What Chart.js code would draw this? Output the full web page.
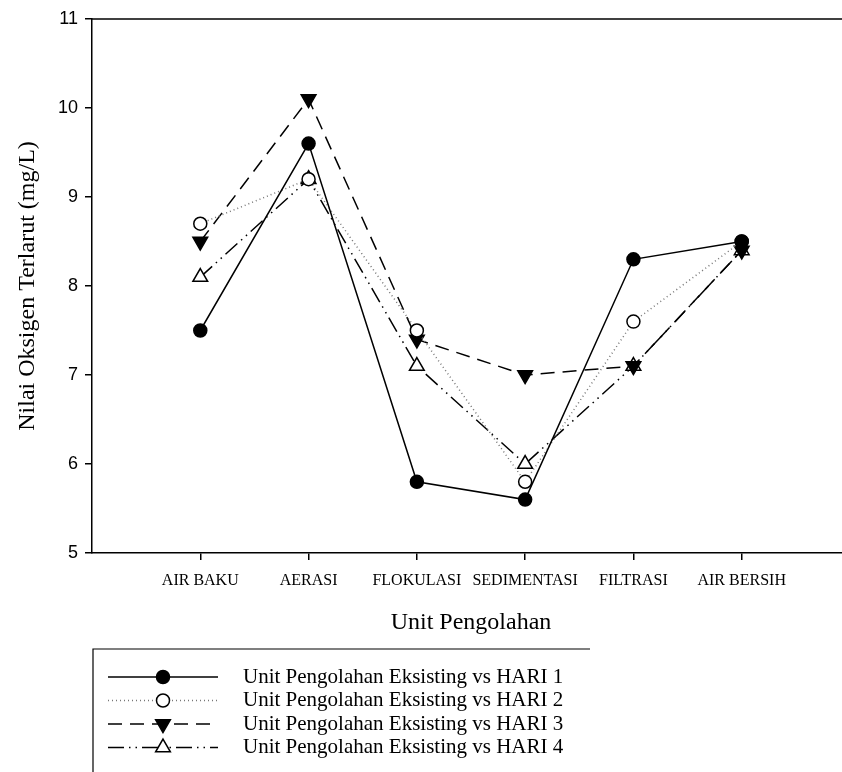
<!DOCTYPE html>
<html>
<head>
<meta charset="utf-8">
<script src="https://cdn.jsdelivr.net/npm/chart.js@4"></script>
<style>
    html, body { margin: 0; padding: 0; background: #fff; overflow: hidden; }
    #wrap { width: 842px; height: 772px; overflow: hidden; }
</style>
</head>
<body>
<div id="wrap"><canvas id="oxygenChart" width="860" height="772"></canvas></div>
<script>
const categories = ['AIR BAKU', 'AERASI', 'FLOKULASI', 'SEDIMENTASI', 'FILTRASI', 'AIR BERSIH'];
const hari1 = [7.5, 9.6, 5.8, 5.6, 8.3, 8.5];
const hari2 = [8.7, 9.2, 7.5, 5.8, 7.6, 8.5];
const hari3 = [8.5, 10.1, 7.4, 7.0, 7.1, 8.4];
const hari4 = [8.1, 9.2, 7.1, 6.0, 7.1, 8.4];
const seriesNames = [
    'Unit Pengolahan Eksisting vs HARI 1',
    'Unit Pengolahan Eksisting vs HARI 2',
    'Unit Pengolahan Eksisting vs HARI 3',
    'Unit Pengolahan Eksisting vs HARI 4'
];
const yTicks = [5, 6, 7, 8, 9, 10, 11];

const serif = '"Liberation Serif", "Times New Roman", serif';
const sans = '"Liberation Sans", Arial, sans-serif';

// categories sit at x = 1..n on a linear scale
const toPoints = (vals) => vals.map((v, i) => ({ x: i + 1, y: v }));

// top frame line + hand-drawn legend box below the axis title
const framePlugin = {
    id: 'frame',
    afterDraw(chart) {
        const c = chart.ctx;
        const area = chart.chartArea;
        c.save();
        c.strokeStyle = '#000';
        c.lineWidth = 1.5;
        c.beginPath();
        c.moveTo(area.left, area.top);
        c.lineTo(area.right, area.top);
        c.stroke();

        // legend box (bottom runs off the picture)
        const boxLeft = 93, boxTop = 649, boxRight = 590;
        c.lineWidth = 1.2;
        c.beginPath();
        c.moveTo(boxRight, boxTop);
        c.lineTo(boxLeft, boxTop);
        c.lineTo(boxLeft, 780);
        c.stroke();

        chart.data.datasets.forEach((ds, i) => {
            const y = 677 + i * 23.5;
            c.save();
            c.strokeStyle = ds.borderColor;
            c.lineWidth = ds.borderWidth;
            c.setLineDash(ds.borderDash || []);
            c.beginPath();
            c.moveTo(108, y);
            c.lineTo(218, y);
            c.stroke();
            c.restore();
            c.save();
            c.setLineDash([]);
            c.strokeStyle = ds.pointBorderColor;
            c.fillStyle = ds.pointBackgroundColor;
            c.lineWidth = ds.pointBorderWidth;
            Chart.helpers.drawPoint(c, {
                pointStyle: ds.pointStyle,
                rotation: ds.pointRotation || 0,
                radius: ds.pointRadius,
                borderWidth: ds.pointBorderWidth
            }, 163, y);
            c.restore();
            c.fillStyle = '#000';
            c.font = '21px ' + serif;
            c.textBaseline = 'middle';
            c.textAlign = 'left';
            c.fillText(ds.label, 243, y);
        });
        c.restore();
    }
};

new Chart(document.getElementById('oxygenChart'), {
    type: 'line',
    data: {
        datasets: [{
            label: seriesNames[0],
            data: toPoints(hari1),
            borderColor: '#000',
            borderWidth: 1.5,
            pointStyle: 'circle',
            pointRadius: 6.5,
            pointBackgroundColor: '#000',
            pointBorderColor: '#000',
            pointBorderWidth: 1.5
        }, {
            label: seriesNames[1],
            data: toPoints(hari2),
            borderColor: '#777',
            borderWidth: 1.5,
            borderDash: [1, 3],
            pointStyle: 'circle',
            pointRadius: 6.5,
            pointBackgroundColor: '#fff',
            pointBorderColor: '#000',
            pointBorderWidth: 1.5
        }, {
            label: seriesNames[2],
            data: toPoints(hari3),
            borderColor: '#000',
            borderWidth: 1.5,
            borderDash: [14, 8],
            pointStyle: 'triangle',
            pointRotation: 180,
            pointRadius: 8.5,
            pointBackgroundColor: '#000',
            pointBorderColor: '#000',
            pointBorderWidth: 1.5
        }, {
            label: seriesNames[3],
            data: toPoints(hari4),
            borderColor: '#000',
            borderWidth: 1.5,
            borderDash: [16, 5, 1.5, 5, 1.5, 5],
            pointStyle: 'triangle',
            pointRadius: 8.5,
            pointBackgroundColor: '#fff',
            pointBorderColor: '#000',
            pointBorderWidth: 1.5
        }]
    },
    options: {
        responsive: false,
        animation: false,
        devicePixelRatio: 1,
        layout: { padding: { top: 19, right: 8, bottom: 119, left: 0 } },
        plugins: {
            legend: { display: false },
            tooltip: { enabled: false }
        },
        elements: { line: { tension: 0 } },
        scales: {
            x: {
                type: 'linear',
                min: 0,
                max: categories.length + 1,
                afterBuildTicks: (scale) => {
                    scale.ticks = categories.map((c, i) => ({ value: i + 1 }));
                },
                afterFit: (scale) => { scale.height = 100; },
                grid: {
                    drawOnChartArea: false,
                    color: '#000',
                    lineWidth: 1.5,
                    tickLength: 7
                },
                border: { color: '#000', width: 1.5 },
                ticks: {
                    autoSkip: false,
                    maxRotation: 0,
                    padding: 11,
                    color: '#000',
                    font: { family: serif, size: 16 },
                    callback: (v) => categories[v - 1]
                },
                title: {
                    display: true,
                    text: 'Unit Pengolahan',
                    color: '#000',
                    font: { family: serif, size: 24 },
                    padding: { top: 0, bottom: 16 }
                }
            },
            y: {
                min: yTicks[0],
                max: yTicks[yTicks.length - 1],
                afterBuildTicks: (scale) => {
                    scale.ticks = yTicks.map(v => ({ value: v }));
                },
                afterFit: (scale) => { scale.width = 92; },
                grid: {
                    drawOnChartArea: false,
                    color: '#000',
                    lineWidth: 1.5,
                    tickLength: 7
                },
                border: { color: '#000', width: 1.5 },
                ticks: {
                    padding: 7,
                    color: '#000',
                    font: { family: sans, size: 18 }
                },
                title: {
                    display: true,
                    text: 'Nilai Oksigen Terlarut (mg/L)',
                    color: '#000',
                    font: { family: serif, size: 24 },
                    padding: { top: 13, bottom: 0 }
                }
            }
        }
    },
    plugins: [framePlugin]
});
</script>
</body>
</html>
